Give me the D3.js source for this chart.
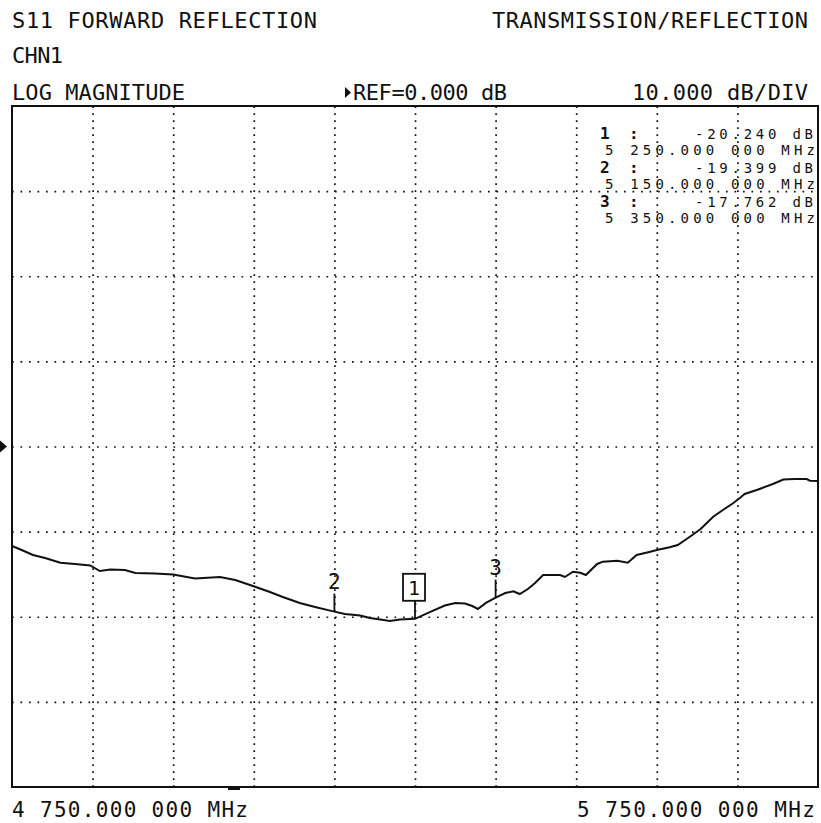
<!DOCTYPE html>
<html>
<head>
<meta charset="utf-8">
<script src="https://cdn.jsdelivr.net/npm/d3@7"></script>
<style>
  body { margin: 0; background: #fff; }
  text { font-family: "DejaVu Sans Mono", "Liberation Mono", monospace; fill: #111; }
</style>
</head>
<body>
<div id="chart"></div>
<script>
// S11 log magnitude trace
const freqs = [4750, 4762, 4776, 4791, 4810, 4828, 4847, 4859, 4872, 4890, 4903, 4927, 4950, 4977, 5008, 5027,
  5049, 5070, 5086, 5107, 5126, 5150, 5163, 5182, 5194, 5207, 5219, 5231, 5250, 5269, 5287, 5300, 5312, 5321,
  5328, 5338, 5350, 5362, 5372, 5380, 5390, 5399, 5409, 5430, 5436, 5446, 5455, 5462, 5476, 5483, 5501, 5514,
  5525, 5542, 5550, 5566, 5576, 5591, 5604, 5620, 5632, 5645, 5653, 5659, 5674, 5694, 5707, 5721, 5736, 5740, 5750];
const s11 = [-11.69, -12.16, -12.75, -13.1, -13.65, -13.8, -13.98, -14.63, -14.45, -14.5, -14.86, -14.92, -15.04,
  -15.5, -15.33, -15.68, -16.39, -17.09, -17.68, -18.38, -18.85, -19.4, -19.68, -19.85, -20.15, -20.32, -20.5,
  -20.32, -20.24, -19.43, -18.68, -18.38, -18.44, -18.74, -19.09, -18.38, -17.76, -17.21, -17.01, -17.33, -16.74,
  -16.04, -15.1, -15.1, -15.33, -14.71, -14.83, -15.1, -13.8, -13.53, -13.42, -13.65, -12.75, -12.36, -12.16,
  -11.84, -11.57, -10.6, -9.73, -8.25, -7.46, -6.64, -6.05, -5.58, -5.11, -4.41, -3.88, -3.82, -3.82, -4.02, -4.05];

// markers
const markerIds = ["1", "2", "3"];
const markerFreqs = [5250, 5150, 5350];
const markerVals = [-20.240, -19.399, -17.762];
const markerFreqLabels = ["5 250.000 000 MHz", "5 150.000 000 MHz", "5 350.000 000 MHz"];
const markerValLabels = ["-20.240 dB", "-19.399 dB", "-17.762 dB"];

// grid ticks
const freqTicks = [4850, 4950, 5050, 5150, 5250, 5350, 5450, 5550, 5650];
const dbTicks = [30, 20, 10, 0, -10, -20, -30];

const width = 821;
const height = 823;
const plot = { left: 12, right: 818, top: 106, bottom: 787 };

const svg = d3.select("#chart")
  .append("svg")
  .attr("width", width)
  .attr("height", height);

svg.append("rect").attr("width", width).attr("height", height).attr("fill", "#fff");

const x = d3.scaleLinear().domain([4750, 5750]).range([plot.left, plot.right]);
const y = d3.scaleLinear().domain([-40, 40]).range([plot.bottom, plot.top]);

// dotted graticule
svg.append("g")
  .attr("transform", `translate(0,${plot.bottom})`)
  .call(d3.axisBottom(x).tickValues(freqTicks).tickSize(-(plot.bottom - plot.top)).tickFormat(""))
  .call(g => g.select(".domain").remove())
  .selectAll("line")
  .attr("stroke", "#111")
  .attr("stroke-width", 1.7)
  .attr("stroke-dasharray", "1.7 5.3");

svg.append("g")
  .attr("transform", `translate(${plot.left},0)`)
  .call(d3.axisLeft(y).tickValues(dbTicks).tickSize(-(plot.right - plot.left)).tickFormat(""))
  .call(g => g.select(".domain").remove())
  .selectAll("line")
  .attr("stroke", "#111")
  .attr("stroke-width", 1.7)
  .attr("stroke-dasharray", "1.7 6.8");

// frame
svg.append("rect")
  .attr("x", plot.left).attr("y", plot.top)
  .attr("width", plot.right - plot.left).attr("height", plot.bottom - plot.top)
  .attr("fill", "none").attr("stroke", "#111").attr("stroke-width", 2);

// reference pointer at 0 dB
svg.append("path")
  .attr("d", `M0,${y(0) - 6}L7,${y(0)}L0,${y(0) + 6}Z`)
  .attr("fill", "#111");

// little stimulus marker under the frame
svg.append("rect")
  .attr("x", 228).attr("y", plot.bottom).attr("width", 12).attr("height", 3)
  .attr("fill", "#111");

// trace
const pts = freqs.map((f, i) => [f, s11[i]]);
svg.append("path")
  .datum(pts)
  .attr("fill", "none")
  .attr("stroke", "#111")
  .attr("stroke-width", 2)
  .attr("d", d3.line().x(d => x(d[0])).y(d => y(d[1])));

// marker stems and labels on the trace
markerIds.forEach((id, i) => {
  const mx = x(markerFreqs[i]);
  const my = y(markerVals[i]);
  svg.append("line")
    .attr("x1", mx).attr("x2", mx).attr("y1", my).attr("y2", my - 18)
    .attr("stroke", "#111").attr("stroke-width", 1.8);
  if (i === 0) {
    // active marker gets a box
    svg.append("rect")
      .attr("x", mx - 12).attr("y", my - 45).attr("width", 22).attr("height", 27)
      .attr("fill", "#fff").attr("stroke", "#111").attr("stroke-width", 1.8);
    svg.append("text")
      .attr("x", mx - 1).attr("y", my - 24)
      .attr("text-anchor", "middle")
      .attr("font-size", "20px")
      .text(id);
  } else {
    svg.append("text")
      .attr("x", mx).attr("y", my - 23)
      .attr("text-anchor", "middle")
      .attr("font-size", "21px")
      .text(id);
  }
});

// marker readout, top right
const readout = svg.append("g");
markerIds.forEach((id, i) => {
  const base = 139 + i * 34;
  readout.append("text")
    .attr("x", 600).attr("y", base)
    .attr("font-size", "16px").attr("font-weight", "bold")
    .text(id);
  readout.append("text")
    .attr("x", 629).attr("y", base)
    .attr("font-size", "16px").attr("font-weight", "bold")
    .text(":");
  readout.append("text")
    .attr("x", 695).attr("y", base)
    .attr("font-size", "14px")
    .attr("textLength", 118).attr("lengthAdjust", "spacing")
    .text(markerValLabels[i]);
  readout.append("text")
    .attr("x", 605).attr("y", base + 16)
    .attr("font-size", "14px")
    .attr("textLength", 210).attr("lengthAdjust", "spacing")
    .text(markerFreqLabels[i]);
});

// header and footer annotations
const labels = [
  { t: "S11 FORWARD REFLECTION", x: 12, y: 28, w: 305, fs: 22 },
  { t: "TRANSMISSION/REFLECTION", x: 492, y: 28, w: 316, fs: 22 },
  { t: "CHN1", x: 12, y: 63, w: 51, fs: 22 },
  { t: "LOG MAGNITUDE", x: 12, y: 100, w: 173, fs: 22 },
  { t: "REF=0.000 dB", x: 353, y: 100, w: 154, fs: 22 },
  { t: "10.000 dB/DIV", x: 632, y: 100, w: 176, fs: 22 },
  { t: "4 750.000 000 MHz", x: 12, y: 817, w: 236, fs: 21 },
  { t: "5 750.000 000 MHz", x: 577, y: 817, w: 238, fs: 21 }
];

svg.selectAll(".lbl")
  .data(labels)
  .enter()
  .append("text")
  .attr("class", "lbl")
  .attr("x", d => d.x)
  .attr("y", d => d.y)
  .attr("font-size", d => d.fs + "px")
  .attr("textLength", d => d.w)
  .attr("lengthAdjust", "spacing")
  .text(d => d.t);

// small pointer in front of REF
svg.append("path")
  .attr("d", "M345,87L351,92.5L345,98Z")
  .attr("fill", "#111");
</script>
</body>
</html>
